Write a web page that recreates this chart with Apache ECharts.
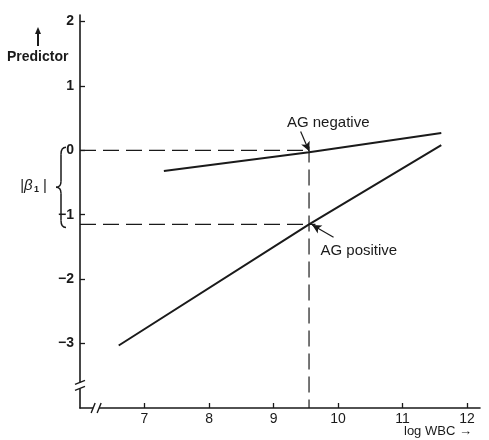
<!DOCTYPE html>
<html><head><meta charset="utf-8">
<script src="https://cdn.jsdelivr.net/npm/echarts@6/dist/echarts.min.js"></script>
<style>html,body{margin:0;padding:0;background:#fff}#c{width:489px;height:440px}</style>
</head><body><div id="c"></div>
<script>
// ---- data ----
const xTicks = [7, 8, 9, 10, 11, 12];
const yTicks = [-3, -2, -1, 0, 1, 2];
const agNegX = [7.3, 9.55, 11.6];
const agNegY = [-0.32, -0.03, 0.27];
const agPosX = [6.6, 9.55, 11.6];
const agPosY = [-3.03, -1.15, 0.08];
const cutoffX = 9.55;
const beta1Y = -1.15;
const labelNeg = 'AG negative';
const labelPos = 'AG positive';

(function () {
const FONT = '"Liberation Sans", Arial, sans-serif';
const INK = '#1a1a1a';
const zip = (xs, ys) => xs.map((x, i) => [x, ys[i]]);

const chart = echarts.init(document.getElementById('c'), null, {renderer: 'canvas'});
const dashStyle = {color: INK, width: 1.2, type: [16, 7]};

chart.setOption({
  animation: false,
  backgroundColor: '#fff',
  grid: {left: 80, right: 9, top: 15, bottom: 32},
  xAxis: {
    type: 'value', min: 6, max: 12.2, interval: 1,
    axisLine: {onZero: false, lineStyle: {color: INK, width: 1.6}},
    axisTick: {inside: true, length: 5, customValues: xTicks, lineStyle: {color: INK, width: 1.3}},
    axisLabel: {margin: 4, fontFamily: FONT, fontSize: 14, color: INK, customValues: xTicks,
      formatter: v => xTicks.includes(v) ? String(v) : ''},
    splitLine: {show: false}
  },
  yAxis: {
    type: 'value', min: -4, max: 2.1, interval: 1,
    axisLine: {onZero: false, lineStyle: {color: INK, width: 1.6}},
    axisTick: {inside: true, length: 5, customValues: yTicks, lineStyle: {color: INK, width: 1.3}},
    axisLabel: {margin: 6, fontFamily: FONT, fontSize: 14, fontWeight: 'bold', color: INK, customValues: yTicks,
      formatter: v => yTicks.includes(v) ? String(v).replace('-', '\u2212') : ''},
    splitLine: {show: false}
  },
  series: [
    {type: 'line', data: zip(agNegX, agNegY), showSymbol: false,
      lineStyle: {color: INK, width: 2}},
    {type: 'line', data: zip(agPosX, agPosY), showSymbol: false,
      lineStyle: {color: INK, width: 2}},
    {type: 'line', data: [[6, 0], [cutoffX, 0]], showSymbol: false, lineStyle: dashStyle},
    {type: 'line', data: [[6, beta1Y], [cutoffX + 0.1, beta1Y]], showSymbol: false, lineStyle: dashStyle},
    {type: 'line', data: [[cutoffX, 0.06], [cutoffX, -4]], showSymbol: false, lineStyle: dashStyle},
    {type: 'line', data: [], silent: true,
      markLine: {silent: true, symbol: ['none', 'arrow'], symbolSize: [7, 9],
        lineStyle: {color: INK, width: 1.2, type: 'solid'}, label: {show: false},
        data: [
          [{coord: [cutoffX - 0.13, 0.29]}, {coord: [cutoffX, -0.01]}],
          [{coord: [cutoffX + 0.38, -1.35]}, {coord: [cutoffX + 0.05, -1.16]}]
        ]},
      markPoint: {symbol: 'circle', symbolSize: 0,
        label: {show: true, fontFamily: FONT, fontSize: 15, color: INK},
        data: [
          {coord: [cutoffX - 0.42, 0.42], value: labelNeg, label: {formatter: labelNeg, position: 'right'}},
          {coord: [cutoffX + 0.1, -1.56], value: labelPos, label: {formatter: labelPos, position: 'right'}}
        ]}
    }
  ]
});

const p0 = chart.convertToPixel({gridIndex: 0}, [6, 0]);
const pb = chart.convertToPixel({gridIndex: 0}, [6, beta1Y]);
const ax = p0[0];
const yb = chart.convertToPixel({gridIndex: 0}, [6, -3.65])[1];
const xb = chart.convertToPixel({gridIndex: 0}, [6.25, -4])[0];
const xAxisY = chart.convertToPixel({gridIndex: 0}, [6, -4])[1];
const bx = 61, bt = p0[1] - 3, bb = pb[1] + 3, mid = (bt + bb) / 2;
const braceStyle = {stroke: INK, lineWidth: 1.5, fill: null};

chart.setOption({
  graphic: [
    {type: 'text', x: 7, y: 50, style: {text: 'Predictor', font: `bold 14px ${FONT}`, fill: INK}},
    {type: 'line', shape: {x1: 38, y1: 46, x2: 38, y2: 31}, style: {stroke: INK, lineWidth: 2}},
    {type: 'polygon', shape: {points: [[38, 27], [35, 34], [41, 34]]}, style: {fill: INK}},
    {type: 'text', x: 404, y: 425, style: {text: 'log WBC \u2192', font: `13px ${FONT}`, fill: INK}},
    {type: 'text', x: 20, y: mid - 9, style: {text: '|\u03B2', font: `italic 15px ${FONT}`, fill: INK}},
    {type: 'text', x: 34, y: mid - 2, style: {text: '1', font: `bold 9px ${FONT}`, fill: INK}},
    {type: 'text', x: 43, y: mid - 9, style: {text: '|', font: `15px ${FONT}`, fill: INK}},
    {type: 'bezierCurve', shape: {x1: bx + 5, y1: bt, cpx1: bx, cpy1: bt, x2: bx, y2: bt + 7}, style: braceStyle},
    {type: 'line', shape: {x1: bx, y1: bt + 7, x2: bx, y2: mid - 6}, style: braceStyle},
    {type: 'bezierCurve', shape: {x1: bx, y1: mid - 6, cpx1: bx, cpy1: mid, x2: bx - 5, y2: mid}, style: braceStyle},
    {type: 'bezierCurve', shape: {x1: bx - 5, y1: mid, cpx1: bx, cpy1: mid, x2: bx, y2: mid + 6}, style: braceStyle},
    {type: 'line', shape: {x1: bx, y1: mid + 6, x2: bx, y2: bb - 7}, style: braceStyle},
    {type: 'bezierCurve', shape: {x1: bx, y1: bb - 7, cpx1: bx, cpy1: bb, x2: bx + 5, y2: bb}, style: braceStyle},
    {type: 'rect', shape: {x: ax - 3, y: yb - 3, width: 6, height: 6}, style: {fill: '#fff'}, z: 100},
    {type: 'line', shape: {x1: ax - 5, y1: yb - 1, x2: ax + 5, y2: yb - 5}, style: {stroke: INK, lineWidth: 1.4}, z: 101},
    {type: 'line', shape: {x1: ax - 5, y1: yb + 5, x2: ax + 5, y2: yb + 1}, style: {stroke: INK, lineWidth: 1.4}, z: 101},
    {type: 'rect', shape: {x: xb - 3, y: xAxisY - 3, width: 6, height: 6}, style: {fill: '#fff'}, z: 100},
    {type: 'line', shape: {x1: xb - 5, y1: xAxisY + 5, x2: xb - 1, y2: xAxisY - 5}, style: {stroke: INK, lineWidth: 1.4}, z: 101},
    {type: 'line', shape: {x1: xb + 1, y1: xAxisY + 5, x2: xb + 5, y2: xAxisY - 5}, style: {stroke: INK, lineWidth: 1.4}, z: 101}
  ]
});
})();
</script></body></html>
